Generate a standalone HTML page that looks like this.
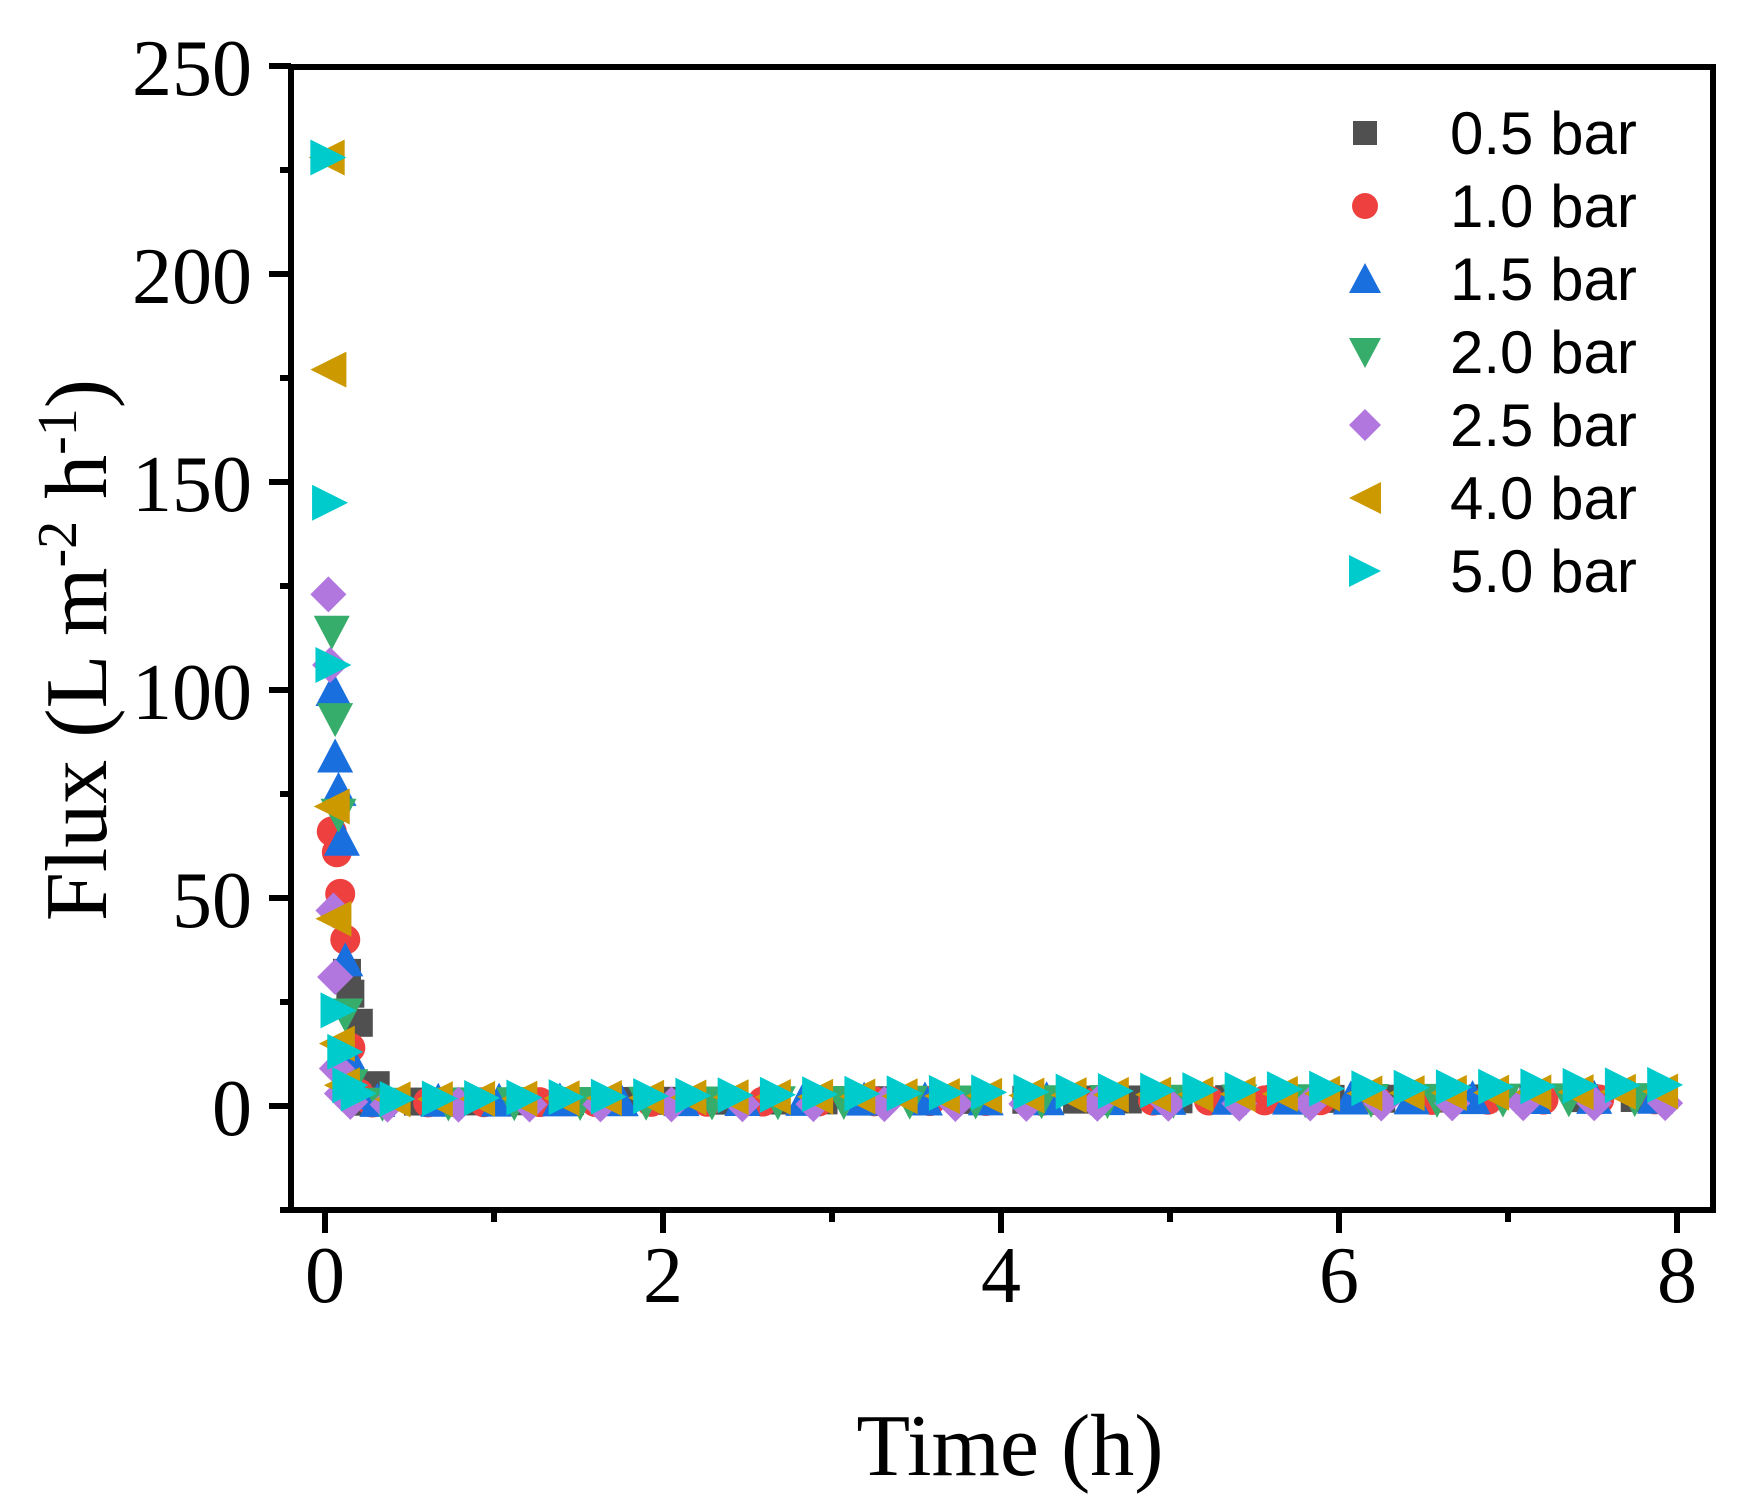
<!DOCTYPE html>
<html><head><meta charset="utf-8"><style>html,body{margin:0;padding:0;background:#fff}svg{display:block}</style></head>
<body>
<svg id="s" width="1752" height="1511" xmlns="http://www.w3.org/2000/svg">
<rect width="1752" height="1511" fill="#fff"/>
<g id="data"></g>
<rect x="291" y="67" width="1422" height="1143" fill="none" stroke="#000" stroke-width="6"/>
<g stroke="#000" stroke-width="6" id="ticks"></g>
<g font-family="'Liberation Serif',serif" font-size="80" fill="#000" text-anchor="end">
<text x="252" y="95">250</text><text x="252" y="303">200</text><text x="252" y="511">150</text>
<text x="252" y="719">100</text><text x="252" y="927">50</text><text x="252" y="1135">0</text>
</g>
<g font-family="'Liberation Serif',serif" font-size="80" fill="#000" text-anchor="middle">
<text x="325" y="1302">0</text><text x="663" y="1302">2</text><text x="1001" y="1302">4</text>
<text x="1339" y="1302">6</text><text x="1677" y="1302">8</text>
<text x="1010" y="1475" font-size="88">Time (h)</text>
<text transform="translate(106,650) rotate(-90)" font-size="88">Flux (L m<tspan dy="-30" font-size="56">-2</tspan><tspan dy="30"> h</tspan><tspan dy="-30" font-size="56">-1</tspan><tspan dy="30">)</tspan></text>
</g>
<g id="leg"></g>
<g font-family="'Liberation Sans',sans-serif" font-size="60" fill="#000">
<text x="1450" y="154">0.5 bar</text><text x="1450" y="227">1.0 bar</text><text x="1450" y="300">1.5 bar</text>
<text x="1450" y="373">2.0 bar</text><text x="1450" y="446">2.5 bar</text><text x="1450" y="519">4.0 bar</text>
<text x="1450" y="592">5.0 bar</text>
</g>
</svg>
<script>
var NS="http://www.w3.org/2000/svg";
function X(t){return 325+t*169;}function Y(v){return 1106-v*4.16;}
function mk(type,cx,cy,col,s){var e;s=s||16;
 if(type==0){e=document.createElementNS(NS,'rect');e.setAttribute('x',cx-s+2);e.setAttribute('y',cy-s+2);e.setAttribute('width',2*s-4);e.setAttribute('height',2*s-4);}
 else if(type==1){e=document.createElementNS(NS,'circle');e.setAttribute('cx',cx);e.setAttribute('cy',cy);e.setAttribute('r',s-1);}
 else{var p;if(type==2)p=[[0,-s-2],[s+2,s],[-s-2,s]];else if(type==3)p=[[-s-2,-s],[s+2,-s],[0,s+2]];else if(type==4)p=[[0,-s-2],[s+2,0],[0,s+2],[-s-2,0]];else if(type==5)p=[[-s-2,0],[s+2,-s-2],[s+2,s+2]];else p=[[s+2,0],[-s-2,-s-2],[-s-2,s+2]];
  e=document.createElementNS(NS,'polygon');e.setAttribute('points',p.map(function(q){return (cx+q[0])+','+(cy+q[1]);}).join(' '));}
 e.setAttribute('fill',col);return e;}
var cols=['#505050','#ef4040','#1a6fdf','#37ad6b','#b177de','#cc9900','#00cbcc'];
var init=[[[0.13,32],[0.15,27],[0.2,20],[0.3,5]],[[0.04,66],[0.07,61],[0.09,51],[0.12,40],[0.15,14],[0.2,3]],[[0.05,100],[0.06,84],[0.08,76],[0.1,64],[0.12,35],[0.14,12],[0.2,3]],[[0.04,114],[0.06,93],[0.08,70],[0.12,22],[0.15,5]],[[0.02,123],[0.03,106],[0.05,47],[0.06,31],[0.07,9],[0.1,3],[0.15,1]],[[0.01,228],[0.02,177],[0.04,72],[0.05,45],[0.07,15],[0.1,5]],[[0.02,228],[0.03,145],[0.05,106],[0.08,23],[0.12,13],[0.15,5],[0.2,3]]];
var ss=[[1,0.12],[0.8,0.1],[1.2,0.1],[0.5,0.15],[0.3,0.05],[1.5,0.25],[1.5,0.45]];
var g=document.getElementById('data');
for(var k=0;k<7;k++){init[k].forEach(function(p){g.appendChild(mk(k,X(p[0]),Y(p[1]),cols[k]));});
 var step=(k==6||k==5)?0.25:0.3+0.03*k;
 for(var t=0.25+0.03*k;t<=8.02;t+=step){var v=ss[k][0]+ss[k][1]*t;g.appendChild(mk(k,X(t),Y(v),cols[k]));}}
var tk=document.getElementById('ticks');
function ln(x1,y1,x2,y2){var l=document.createElementNS(NS,'line');l.setAttribute('x1',x1);l.setAttribute('y1',y1);l.setAttribute('x2',x2);l.setAttribute('y2',y2);tk.appendChild(l);}
for(var i=0;i<=8;i++){ln(X(i),1210,X(i),i%2?1222:1233);}
for(var v=-25;v<=250;v+=25){ln(291,Y(v),(v%50)?280:269,Y(v));}
var lg=document.getElementById('leg');
for(var k=0;k<7;k++){lg.appendChild(mk(k,1365,133+73*k,cols[k],14));}
</script>
</body></html>
